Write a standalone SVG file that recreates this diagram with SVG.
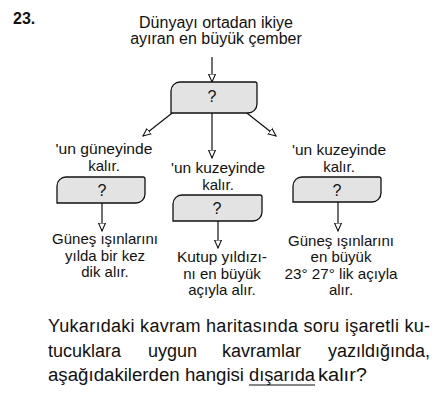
<svg xmlns="http://www.w3.org/2000/svg" width="448" height="401" viewBox="0 0 448 401">
<style>
text{font-family:"Liberation Sans",Arial,sans-serif;fill:#111}
.t{font-size:16px;text-anchor:middle}
.l{font-size:15px;text-anchor:middle}
.q{font-size:16px;text-anchor:middle}
.p{font-size:18px}
.box{fill:#e3e3e3;stroke:#111;stroke-width:1.3}
.c{stroke:#111;stroke-width:1.2;fill:none}
</style>
<defs>
<marker id="ah" markerUnits="userSpaceOnUse" markerWidth="10" markerHeight="10" refX="8" refY="4" orient="auto" viewBox="0 0 10 8">
<path d="M0,0.5 L8,4 L0,7.5 Z" fill="#fff" stroke="#111" stroke-width="1.1"/>
</marker>
</defs>
<rect width="448" height="401" fill="#fff"/>
<text x="13" y="24" style="font-size:16px;font-weight:bold">23.</text>
<g id="root">
<text class="t" x="216" y="28">Dünyayı ortadan ikiye</text>
<text class="t" x="216" y="44">ayıran en büyük çember</text>
</g>
<g id="connectors">
<line class="c" x1="212" y1="57" x2="212" y2="82" marker-end="url(#ah)"/>
<line class="c" x1="176" y1="110" x2="143" y2="136" marker-end="url(#ah)"/>
<line class="c" x1="212" y1="113" x2="212" y2="158" marker-end="url(#ah)"/>
<line class="c" x1="243" y1="110" x2="276" y2="136" marker-end="url(#ah)"/>
<line class="c" x1="102" y1="203" x2="102" y2="231" marker-end="url(#ah)"/>
<line class="c" x1="218" y1="221" x2="218" y2="248" marker-end="url(#ah)"/>
<line class="c" x1="338" y1="202" x2="338" y2="231" marker-end="url(#ah)"/>
</g>
<g id="box-top">
<path class="box" d="M171,91 V113 H248 A9,9 0 0 0 257,104 V84 A2,2 0 0 0 255,82 H180 A9,9 0 0 0 171,91 Z"/>
<text class="q" x="212" y="102">?</text>
</g>
<g id="label-left">
<text class="l" x="104" y="154" textLength="97" lengthAdjust="spacingAndGlyphs">'un güneyinde</text>
<text class="l" x="104" y="171">kalır.</text>
</g>
<g id="box-left">
<path class="box" d="M57,186 V203 H136 A9,9 0 0 0 145,194 V179 A2,2 0 0 0 143,177 H66 A9,9 0 0 0 57,186 Z"/>
<text class="q" x="102" y="196">?</text>
</g>
<g id="text-left">
<text class="l" x="105" y="244" textLength="106" lengthAdjust="spacingAndGlyphs">Güneş ışınlarını</text>
<text class="l" x="105" y="261">yılda bir kez</text>
<text class="l" x="105" y="277">dik alır.</text>
</g>
<g id="label-mid">
<text class="l" x="218" y="173" textLength="94" lengthAdjust="spacingAndGlyphs">'un kuzeyinde</text>
<text class="l" x="218" y="190">kalır.</text>
</g>
<g id="box-mid">
<path class="box" d="M173,204 V221 H253 A9,9 0 0 0 262,212 V197 A2,2 0 0 0 260,195 H182 A9,9 0 0 0 173,204 Z"/>
<text class="q" x="217" y="214">?</text>
</g>
<g id="text-mid">
<text class="l" x="222" y="262" textLength="90" lengthAdjust="spacingAndGlyphs">Kutup yıldızı-</text>
<text class="l" x="222" y="279">nı en büyük</text>
<text class="l" x="222" y="295">açıyla alır.</text>
</g>
<g id="label-right">
<text class="l" x="339" y="155" textLength="94" lengthAdjust="spacingAndGlyphs">'un kuzeyinde</text>
<text class="l" x="339" y="172">kalır.</text>
</g>
<g id="box-right">
<path class="box" d="M293,186 V202 H372 A9,9 0 0 0 381,193 V179 A2,2 0 0 0 379,177 H302 A9,9 0 0 0 293,186 Z"/>
<text class="q" x="337" y="196">?</text>
</g>
<g id="text-right">
<text class="l" x="341" y="246" textLength="106" lengthAdjust="spacingAndGlyphs">Güneş ışınlarını</text>
<text class="l" x="341" y="262">en büyük</text>
<text class="l" x="341" y="279" textLength="113" lengthAdjust="spacingAndGlyphs">23° 27° lik açıyla</text>
<text class="l" x="341" y="295">alır.</text>
</g>
<g id="question">
<text class="p" x="48" y="332" textLength="382" lengthAdjust="spacing">Yukarıdaki kavram haritasında soru işaretli ku-</text>
<text class="p" x="48" y="357">tucuklara</text>
<text class="p" x="148" y="357">uygun</text>
<text class="p" x="222" y="357">kavramlar</text>
<text class="p" x="430" y="357" text-anchor="end">yazıldığında,</text>
<text class="p" x="48" y="381" textLength="196" lengthAdjust="spacingAndGlyphs">aşağıdakilerden hangisi</text>
<text class="p" x="249" y="381" textLength="66" lengthAdjust="spacingAndGlyphs">dışarıda</text>
<text class="p" x="318" y="381" textLength="49" lengthAdjust="spacingAndGlyphs">kalır?</text>
<line x1="249" y1="385" x2="315" y2="385" stroke="#111" stroke-width="1.2"/>
</g>
</svg>
